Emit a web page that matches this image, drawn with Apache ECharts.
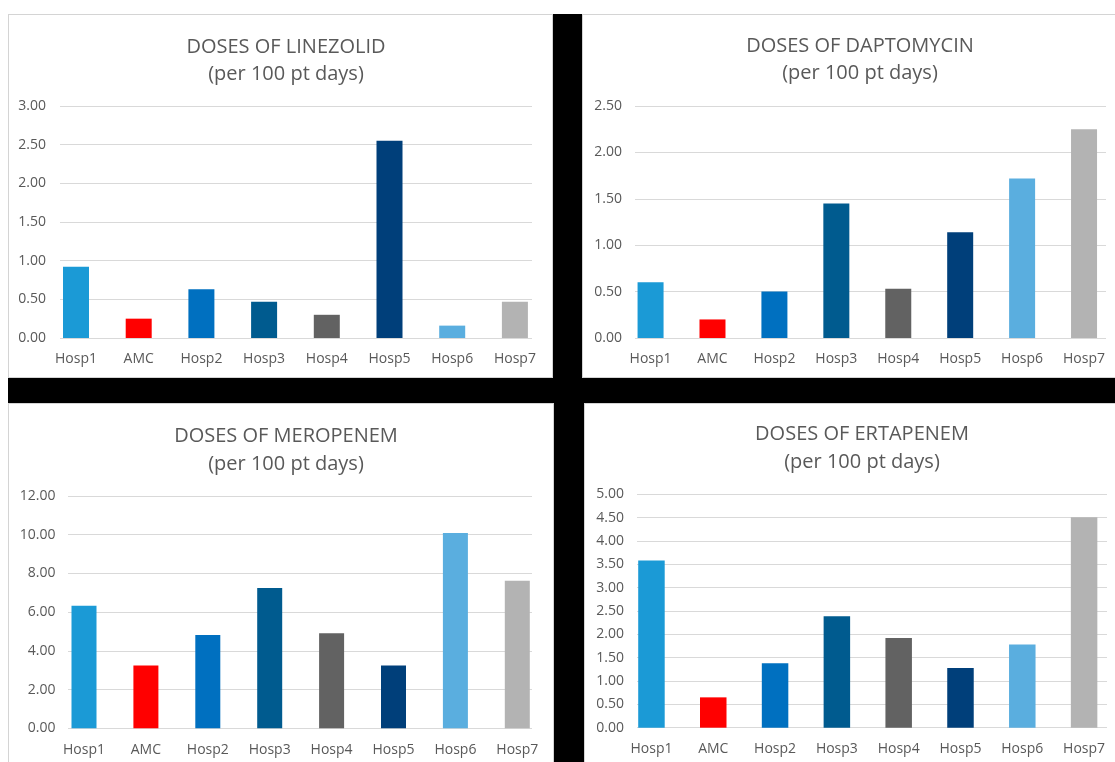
<!DOCTYPE html>
<html><head><meta charset="utf-8">
<script src="https://cdn.jsdelivr.net/npm/echarts@6/dist/echarts.min.js"></script>
<style>
html,body{margin:0;padding:0;background:#fff;width:1115px;height:762px;overflow:hidden;position:relative}
.bk{position:absolute;left:8px;top:14px;width:1107px;height:748px;background:#000}
.pn{position:absolute;background:#fff;border:1px solid #d4d4d4;box-sizing:border-box}
#chart{position:absolute;left:0;top:0;width:1115px;height:762px}
</style></head><body>
<div class="bk"></div>
<div class="pn" style="left:8px;top:14px;width:545px;height:364px"></div>
<div class="pn" style="left:582px;top:14px;width:540px;height:364px"></div>
<div class="pn" style="left:8px;top:403px;width:546px;height:370px"></div>
<div class="pn" style="left:584px;top:403px;width:540px;height:370px"></div>
<div id="chart"></div>
<script>
// ---- data ----
const categories = ['Hosp1','AMC','Hosp2','Hosp3','Hosp4','Hosp5','Hosp6','Hosp7'];
const linezolid  = [0.92, 0.25, 0.63, 0.47, 0.30, 2.55, 0.16, 0.47];
const daptomycin = [0.60, 0.20, 0.50, 1.45, 0.53, 1.14, 1.72, 2.25];
const meropenem  = [6.33, 3.25, 4.82, 7.25, 4.91, 3.25, 10.09, 7.62];
const ertapenem  = [3.58, 0.65, 1.38, 2.39, 1.92, 1.28, 1.78, 4.51];
const titleMain  = ['DOSES OF LINEZOLID','DOSES OF DAPTOMYCIN','DOSES OF MEROPENEM','DOSES OF ERTAPENEM'];
const titleSub   = '(per 100 pt days)';
const yMaxes     = [3, 2.5, 12, 5];
const ySteps     = [0.5, 0.5, 2, 0.5];
const barColors  = ['#1b9ad6','#ff0000','#0070c0','#005b8f','#626262','#003f7a','#5aaedf','#b3b3b3'];

const seriesData = [linezolid, daptomycin, meropenem, ertapenem];

// ---- layout (pixels) ----
const layout = [
  {gl:60,  gw:472, top:106,   h:232,   cx:76,  sp:62.7, bw:26, ylm:14, xlm:14, tx:281, ty:28.5, lh:27},
  {gl:635, gw:471, top:106,   h:232,   cx:651, sp:62.8, bw:26, ylm:13, xlm:14, tx:855, ty:27.5, lh:27},
  {gl:68,  gw:464, top:496,   h:232.3, cx:84,  sp:61.9, bw:25, ylm:12.5, xlm:15, tx:281, ty:417, lh:28},
  {gl:637, gw:470, top:494.3, h:233.4, cx:652, sp:62.9, bw:26.5, ylm:13, xlm:14, tx:857, ty:415, lh:28}
];

const TXT = '#595959';
const FONT = 'Open Sans';
const grid = [], xAxis = [], yAxis = [], series = [], title = [];

layout.forEach((L, i) => {
  // grid for gridlines & y labels
  grid.push({left: L.gl, top: L.top, width: L.gw, height: L.h, containLabel: false});
  // grid for bars & category labels
  grid.push({left: L.cx - L.sp / 2, top: L.top, width: L.sp * 8, height: L.h, containLabel: false});
  const ga = 2 * i, gb = 2 * i + 1;
  xAxis.push({type: 'category', gridIndex: ga, data: categories, show: false});
  yAxis.push({
    type: 'value', gridIndex: ga, min: 0, max: yMaxes[i], interval: ySteps[i],
    axisLine: {show: false}, axisTick: {show: false},
    axisLabel: {color: TXT, fontFamily: FONT, fontSize: 14, margin: L.ylm,
                formatter: v => v.toFixed(2)},
    splitLine: {show: true, lineStyle: {color: '#d9d9d9', width: 1}}
  });
  xAxis.push({
    type: 'category', gridIndex: gb, data: categories,
    axisLine: {show: false}, axisTick: {show: false},
    axisLabel: {color: TXT, fontFamily: FONT, fontSize: 14, margin: L.xlm, interval: 0}
  });
  yAxis.push({type: 'value', gridIndex: gb, min: 0, max: yMaxes[i], interval: ySteps[i], show: false,
              splitLine: {show: false}});
  series.push({
    type: 'bar', xAxisIndex: gb, yAxisIndex: gb, barWidth: L.bw,
    data: seriesData[i].map((v, j) => ({value: v, itemStyle: {color: barColors[j]}})),
    silent: true
  });
  title.push({
    text: titleMain[i] + '\n' + titleSub,
    left: L.tx, top: L.ty, textAlign: 'center',
    textStyle: {color: TXT, fontFamily: FONT, fontSize: 20, fontWeight: 'normal', lineHeight: L.lh}
  });
});

const chart = echarts.init(document.getElementById('chart'), null, {renderer: 'canvas'});
chart.setOption({
  animation: false,
  backgroundColor: 'transparent',
  title, grid, xAxis, yAxis, series
});
</script>
</body></html>
